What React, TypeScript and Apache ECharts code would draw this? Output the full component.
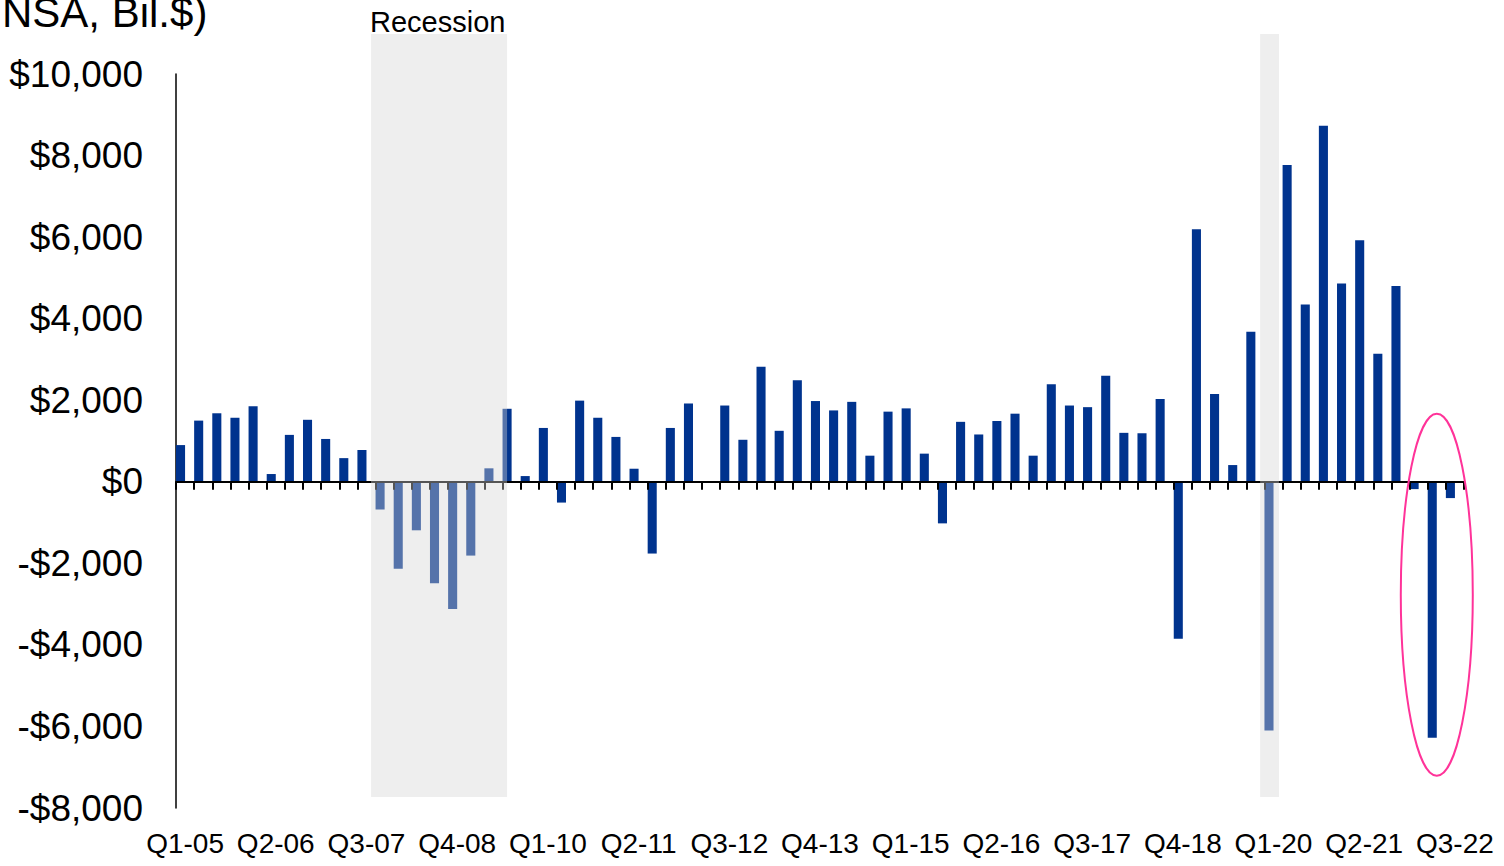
import React, { useEffect, useRef } from "react";
import * as echarts from "echarts";

const categories: string[] = [
  "Q1-05", "Q2-05", "Q3-05", "Q4-05",
  "Q1-06", "Q2-06", "Q3-06", "Q4-06",
  "Q1-07", "Q2-07", "Q3-07", "Q4-07",
  "Q1-08", "Q2-08", "Q3-08", "Q4-08",
  "Q1-09", "Q2-09", "Q3-09", "Q4-09",
  "Q1-10", "Q2-10", "Q3-10", "Q4-10",
  "Q1-11", "Q2-11", "Q3-11", "Q4-11",
  "Q1-12", "Q2-12", "Q3-12", "Q4-12",
  "Q1-13", "Q2-13", "Q3-13", "Q4-13",
  "Q1-14", "Q2-14", "Q3-14", "Q4-14",
  "Q1-15", "Q2-15", "Q3-15", "Q4-15",
  "Q1-16", "Q2-16", "Q3-16", "Q4-16",
  "Q1-17", "Q2-17", "Q3-17", "Q4-17",
  "Q1-18", "Q2-18", "Q3-18", "Q4-18",
  "Q1-19", "Q2-19", "Q3-19", "Q4-19",
  "Q1-20", "Q2-20", "Q3-20", "Q4-20",
  "Q1-21", "Q2-21", "Q3-21", "Q4-21",
  "Q1-22", "Q2-22", "Q3-22",
];

// Net flow, NSA, Bil.$
const values: number[] = [
  900, 1500, 1680, 1570, 1850, 190, 1150, 1520, 1050, 580,
  780, -680, -2130, -1190, -2490, -3120, -1810, 330, 1790, 140,
  1320, -510, 1990, 1570, 1100, 320, -1760, 1320, 1920, 0,
  1870, 1030, 2820, 1250, 2490, 1980, 1750, 1960, 640, 1720,
  1800, 690, -1020, 1470, 1160, 1490, 1670, 640, 2390, 1870,
  1830, 2600, 1200, 1190, 2030, -3850, 6190, 2150, 410, 3680,
  -6100, 7770, 4350, 8730, 4860, 5920, 3140, 4800, -180, -6280,
  -400,
];

const recessions: { from: string; to: string }[] = [
  { from: "Q4-07", to: "Q2-09" },
  { from: "Q1-20", to: "Q1-20" },
];

const highlightLabel = "Q2-22";
const highlightCenterValue = -2770;

const yMin = -8000;
const yMax = 10000;
const yInterval = 2000;

const FONT = "'Liberation Sans', Arial, sans-serif";
const BAR_COLOR = "#00338E";

// layout (pixels / band fractions)
const GRID = { left: 176, right: 40, top: 74, bottom: 58 };
const RECESSION_PADS: [number, number][] = [
  [0.25, 0.25],
  [0.24, -0.2],
];

function fmt(v: number): string {
  const s = Math.abs(v).toLocaleString("en-US");
  return v < 0 ? "-$" + s : "$" + s;
}

export default function App() {
  const ref = useRef<HTMLDivElement>(null);

  useEffect(() => {
    if (!ref.current) return;
    const chart = echarts.init(ref.current, null, { renderer: "svg" });
    const option: any = {
      animation: false,
      backgroundColor: "#ffffff",
      grid: { ...GRID, containLabel: false },
      xAxis: [
        {
          type: "category",
          data: categories,
          position: "bottom",
          boundaryGap: true,
          axisLine: { show: true, onZero: true, lineStyle: { color: "#000", width: 2 } },
          axisTick: { show: true, interval: 0, length: 8, inside: false, lineStyle: { color: "#000", width: 2 } },
          axisLabel: { show: false },
          splitLine: { show: false },
          z: 5,
        },
        {
          type: "category",
          data: categories,
          position: "bottom",
          boundaryGap: true,
          axisLine: { show: false, onZero: false },
          axisTick: { show: false },
          axisLabel: {
            show: true,
            interval: 4,
            fontSize: 28,
            fontFamily: FONT,
            color: "#000",
            margin: 21,
          },
          splitLine: { show: false },
        },
      ],
      yAxis: {
        type: "value",
        min: yMin,
        max: yMax,
        interval: yInterval,
        axisLine: { show: true, onZero: false, lineStyle: { color: "#000", width: 1.5 } },
        axisTick: { show: false },
        splitLine: { show: false },
        axisLabel: {
          formatter: (v: number) => fmt(v),
          fontSize: 37,
          fontFamily: FONT,
          color: "#000",
          margin: 33,
        },
      },
      series: [
        {
          type: "bar",
          name: "Flow",
          data: values,
          xAxisIndex: 0,
          itemStyle: { color: BAR_COLOR },
          barGap: "0%",
          barCategoryGap: "0%",
        },
        {
          type: "bar",
          name: "spacer",
          data: values.map(() => null),
          xAxisIndex: 0,
          itemStyle: { color: "transparent" },
          barGap: "0%",
          barCategoryGap: "0%",
        },
      ],
    };
    chart.setOption(option);

    const cx = (lbl: string) => chart.convertToPixel({ xAxisIndex: 0 }, lbl) as number;
    const cy = (v: number) => chart.convertToPixel({ yAxisIndex: 0 }, v) as number;
    const bw = cx(categories[1]) - cx(categories[0]);
    const topPx = GRID.top - 40;
    const botPx = 866 - GRID.bottom - 11;

    const graphics: any[] = [];
    recessions.forEach((r, i) => {
      const [pl, pr] = RECESSION_PADS[i];
      const x0 = cx(r.from) - bw / 2 - pl * bw;
      const x1 = cx(r.to) + bw / 2 + pr * bw;
      graphics.push({
        type: "rect",
        shape: { x: x0, y: topPx, width: x1 - x0, height: botPx - topPx },
        style: { fill: "rgba(213,213,213,0.4)" },
        z: 100,
      });
      if (i === 0) {
        graphics.push({
          type: "text",
          x: x0 - 1,
          y: topPx - 12,
          style: {
            text: "Recession",
            fontSize: 29,
            fontFamily: FONT,
            fill: "#000",
            verticalAlign: "middle",
            align: "left",
          },
          z: 101,
        });
      }
    });

    graphics.push({
      type: "text",
      x: 2,
      y: 12,
      style: {
        text: "NSA, Bil.$)",
        fontSize: 42,
        fontFamily: FONT,
        fill: "#000",
        verticalAlign: "middle",
        align: "left",
      },
      z: 101,
    });

    graphics.push({
      type: "ellipse",
      shape: { cx: cx(highlightLabel), cy: cy(highlightCenterValue), rx: 36, ry: 181 },
      style: { fill: "none", stroke: "#FF3399", lineWidth: 2 },
      z: 102,
    });

    chart.setOption({ graphic: graphics });

    return () => chart.dispose();
  }, []);

  return (
    <div
      ref={ref}
      style={{ position: "fixed", left: 0, top: 0, width: 1504, height: 866, background: "#fff" }}
    />
  );
}
